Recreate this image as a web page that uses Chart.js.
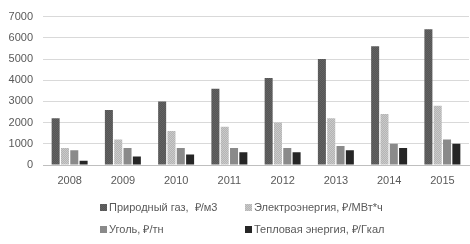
<!DOCTYPE html>
<html>
<head>
<meta charset="utf-8">
<script src="https://cdn.jsdelivr.net/npm/chart.js@4"></script>
<style>
  html, body { margin: 0; padding: 0; background: #fff; }
  #wrap { width: 470px; height: 244px; }
</style>
</head>
<body>
<div id="wrap"><canvas id="chart" width="470" height="244"></canvas></div>
<script>
// данные с графика
const years = ['2008', '2009', '2010', '2011', '2012', '2013', '2014', '2015'];
const gas = [2200, 2600, 3000, 3600, 4100, 5000, 5600, 6400];
const electricity = [800, 1200, 1600, 1800, 2000, 2200, 2400, 2800];
const coal = [700, 800, 800, 800, 800, 900, 1000, 1200];
const heat = [200, 400, 500, 600, 600, 700, 800, 1000];
const seriesLabels = ['Природный газ,  ₽/м3', 'Электроэнергия, ₽/МВт*ч', 'Уголь, ₽/тн', 'Тепловая энергия, ₽/Гкал'];

// текстура для столбцов
function makePattern(c1, c2) {
    const p = document.createElement('canvas');
    p.width = 2; p.height = 2;
    const pc = p.getContext('2d');
    pc.fillStyle = c1; pc.fillRect(0, 0, 2, 2);
    pc.fillStyle = c2; pc.fillRect(0, 0, 1, 1); pc.fillRect(1, 1, 1, 1);
    return pc.createPattern(p, 'repeat');
}

const ctx = document.getElementById('chart').getContext('2d');
const fills = [
    makePattern('#555555', '#636363'),
    makePattern('#b4b4b4', '#cacaca'),
    '#8a8a8a',
    '#262626'
];
const values = [gas, electricity, coal, heat];

const legendPos = [[100, 207], [245, 207], [100, 229], [245, 229]];

const legendPlugin = {
    id: 'gridLegend',
    afterDraw(chart) {
        const c = chart.ctx;
        c.save();
        c.font = '11px "Liberation Sans", Arial, sans-serif';
        c.textBaseline = 'middle';
        chart.data.datasets.forEach((ds, i) => {
            const [x, y] = legendPos[i];
            c.fillStyle = ds.backgroundColor;
            c.fillRect(x, y - 3, 7, 7);
            c.fillStyle = '#595959';
            c.fillText(ds.label, x + 9, y + 1);
        });
        c.restore();
    }
};

new Chart(ctx, {
    type: 'bar',
    data: {
        labels: years,
        datasets: seriesLabels.map((label, i) => ({
            label: label,
            data: values[i],
            backgroundColor: fills[i],
            borderWidth: 0,
            categoryPercentage: 0.7,
            barPercentage: 0.86
        }))
    },
    options: {
        responsive: false,
        animation: false,
        layout: { padding: { top: 8, right: 1, bottom: 54, left: 0 } },
        plugins: {
            legend: { display: false },
            tooltip: { enabled: false }
        },
        scales: {
            x: {
                grid: { display: false, drawTicks: false },
                border: { color: '#bfbfbf' },
                ticks: {
                    color: '#595959',
                    font: { family: '"Liberation Sans", Arial, sans-serif', size: 11 },
                    padding: 9,
                    maxRotation: 0
                },
                afterFit: s => { s.height = 25; }
            },
            y: {
                min: 0,
                max: 7000,
                grid: { color: '#d9d9d9', drawTicks: false },
                border: { display: false },
                ticks: {
                    stepSize: 1000,
                    color: '#595959',
                    font: { family: '"Liberation Sans", Arial, sans-serif', size: 11 },
                    padding: 10,
                    callback: v => String(v)
                },
                afterFit: s => { s.width = 43; }
            }
        }
    },
    plugins: [legendPlugin]
});
</script>
</body>
</html>
